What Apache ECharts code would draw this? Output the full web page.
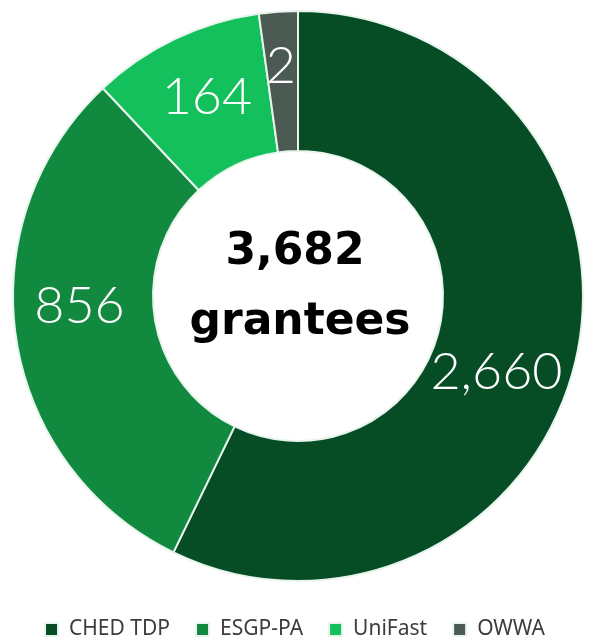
<!DOCTYPE html>
<html>
<head>
<meta charset="utf-8">
<script src="https://cdn.jsdelivr.net/npm/echarts@6/dist/echarts.min.js"></script>
<style>
  html, body { margin: 0; padding: 0; background: #ffffff; }
  #chart { width: 589px; height: 639px; }
</style>
</head>
<body>
<div id="chart"></div>
<script>
// Programme names (legend order)
const programmes = ['CHED TDP', 'ESGP-PA', 'UniFast', 'OWWA'];
// Grantee counts printed on the slices
const grantees = [2660, 856, 164, 2];
// Share of the ring each slice occupies in the picture (%)
const sliceShare = [57.2, 30.8, 9.8, 2.2];
// Centre caption
const totalLabel = '3,682';
const totalUnit = 'grantees';

const colors = ['#064d26', '#11893f', '#14c05c', '#4b5b53'];
const labelOffsets = [[-14, 27], [-3, -23], [3, -2], [-2, -12]];

const chart = echarts.init(document.getElementById('chart'));

const fmt = v => v.toLocaleString('en-US');

chart.setOption({
  animation: false,
  color: colors,
  legend: {
    data: programmes,
    top: 614,
    left: 'center',
    icon: 'rect',
    itemWidth: 13,
    itemHeight: 13,
    itemGap: 25,
    textStyle: { color: '#3c3c3c', fontSize: 21, fontFamily: 'Noto Sans', padding: [0, 0, 0, 6] }
  },
  graphic: [
    {
      type: 'text',
      x: 295,
      y: 231,
      style: {
        text: totalLabel,
        textAlign: 'center',
        fontSize: 44,
        fontWeight: 'bold',
        fontFamily: 'DejaVu Sans',
        fill: '#000000'
      }
    },
    {
      type: 'text',
      x: 300,
      y: 301,
      style: {
        text: totalUnit,
        textAlign: 'center',
        fontSize: 44,
        fontWeight: 'bold',
        fontFamily: 'DejaVu Sans',
        fill: '#000000'
      }
    }
  ],
  series: [{
    type: 'pie',
    center: [298, 296],
    radius: [145, 285],
    startAngle: 90,
    clockwise: true,
    avoidLabelOverlap: false,
    itemStyle: { borderColor: '#e8f5ec', borderWidth: 2 },
    label: {
      show: true,
      position: 'inside',
      color: '#ffffff',
      fontSize: 52,
      fontWeight: 300,
      fontFamily: 'Lato'
    },
    labelLine: { show: false },
    emphasis: { disabled: true },
    data: programmes.map((name, i) => ({
      name,
      value: sliceShare[i],
      label: { formatter: fmt(grantees[i]), offset: labelOffsets[i] }
    }))
  }]
});
</script>
</body>
</html>
